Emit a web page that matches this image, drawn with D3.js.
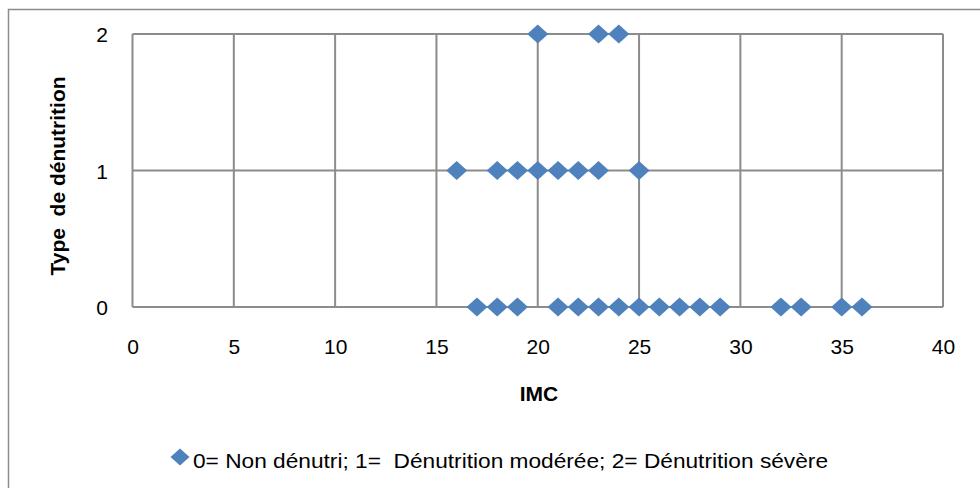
<!DOCTYPE html>
<html>
<head>
<meta charset="utf-8">
<script src="https://cdn.jsdelivr.net/npm/d3@7"></script>
<style>
  body { margin: 0; background: #fff; }
  text { font-family: "Liberation Sans", Arial, sans-serif; fill: #000; }
</style>
</head>
<body>
<svg id="chart" width="980" height="488"></svg>
<script>
// IMC values and type de dénutrition for each patient
const imc = [
  20, 23, 24,
  16, 18, 19, 20, 21, 22, 23, 25,
  17, 18, 19, 21, 22, 23, 24, 25, 26, 27, 28, 29, 32, 33, 35, 36
];
const typeDenutrition = [
  2, 2, 2,
  1, 1, 1, 1, 1, 1, 1, 1,
  0, 0, 0, 0, 0, 0, 0, 0, 0, 0, 0, 0, 0, 0, 0, 0
];
const xTicks = [0, 5, 10, 15, 20, 25, 30, 35, 40];
const yTicks = [0, 1, 2];
const legendLabel = "0= Non dénutri; 1=  Dénutrition modérée; 2= Dénutrition sévère";

const points = imc.map((v, i) => ({ x: v, y: typeDenutrition[i] }));

const svg = d3.select("#chart");

const plot = { left: 132.5, right: 943, top: 34, bottom: 307 };

const x = d3.scaleLinear().domain([0, 40]).range([plot.left, plot.right]);
const y = d3.scaleLinear().domain([0, 2]).range([plot.bottom, plot.top]);

// excel-like diamond, a little wider than tall
function diamondPath(w, h) {
  return `M0,${-h / 2}L${w / 2},0L0,${h / 2}L${-w / 2},0Z`;
}

// outer chart border
svg.append("rect")
  .attr("x", 8.5)
  .attr("y", 9.5)
  .attr("width", 990)
  .attr("height", 500)
  .attr("fill", "none")
  .attr("stroke", "#8c8c8c")
  .attr("stroke-width", 1.5);

// grid
svg.append("g")
  .selectAll("line")
  .data(xTicks)
  .enter()
  .append("line")
  .attr("x1", d => x(d))
  .attr("x2", d => x(d))
  .attr("y1", plot.top)
  .attr("y2", plot.bottom)
  .attr("stroke", "#8c8c8c")
  .attr("stroke-width", 2);

svg.append("g")
  .selectAll("line")
  .data(yTicks)
  .enter()
  .append("line")
  .attr("x1", plot.left)
  .attr("x2", plot.right)
  .attr("y1", d => y(d))
  .attr("y2", d => y(d))
  .attr("stroke", "#8c8c8c")
  .attr("stroke-width", 2);

// axes (labels only, lines are the grid)
const xAxis = svg.append("g")
  .attr("transform", "translate(0,346)")
  .call(d3.axisBottom(x).tickValues(xTicks).tickSize(0).tickFormat(d3.format("d")));
xAxis.select(".domain").remove();
xAxis.selectAll("text")
  .attr("y", 0)
  .attr("dy", "0.36em")
  .attr("font-size", 21)
  .attr("font-family", "Liberation Sans, Arial, sans-serif");

const yAxis = svg.append("g")
  .attr("transform", "translate(108,0)")
  .call(d3.axisLeft(y).tickValues(yTicks).tickSize(0).tickFormat(d3.format("d")));
yAxis.select(".domain").remove();
yAxis.selectAll("text")
  .attr("x", 0)
  .attr("dy", "0.36em")
  .attr("font-size", 21)
  .attr("font-family", "Liberation Sans, Arial, sans-serif");

// axis titles
svg.append("text")
  .attr("x", 539)
  .attr("y", 401)
  .attr("text-anchor", "middle")
  .attr("font-size", 21)
  .attr("font-weight", "bold")
  .text("IMC");

svg.append("text")
  .attr("transform", "translate(65,176) rotate(-90)")
  .attr("text-anchor", "middle")
  .attr("font-size", 21)
  .attr("font-weight", "bold")
  .attr("xml:space", "preserve")
  .text("Type  de dénutrition");

// points
svg.append("g")
  .selectAll("path")
  .data(points)
  .enter()
  .append("path")
  .attr("d", diamondPath(21, 19))
  .attr("transform", d => `translate(${x(d.x)},${y(d.y)})`)
  .attr("fill", "#4f81bd");

// legend
const legend = svg.append("g")
  .attr("transform", "translate(180,457)");

legend.append("path")
  .attr("d", diamondPath(19, 17))
  .attr("fill", "#4f81bd");

legend.append("text")
  .attr("x", 13)
  .attr("y", 11)
  .attr("font-size", 21)
  .attr("textLength", 635)
  .attr("lengthAdjust", "spacingAndGlyphs")
  .attr("xml:space", "preserve")
  .text(legendLabel);
</script>
</body>
</html>
